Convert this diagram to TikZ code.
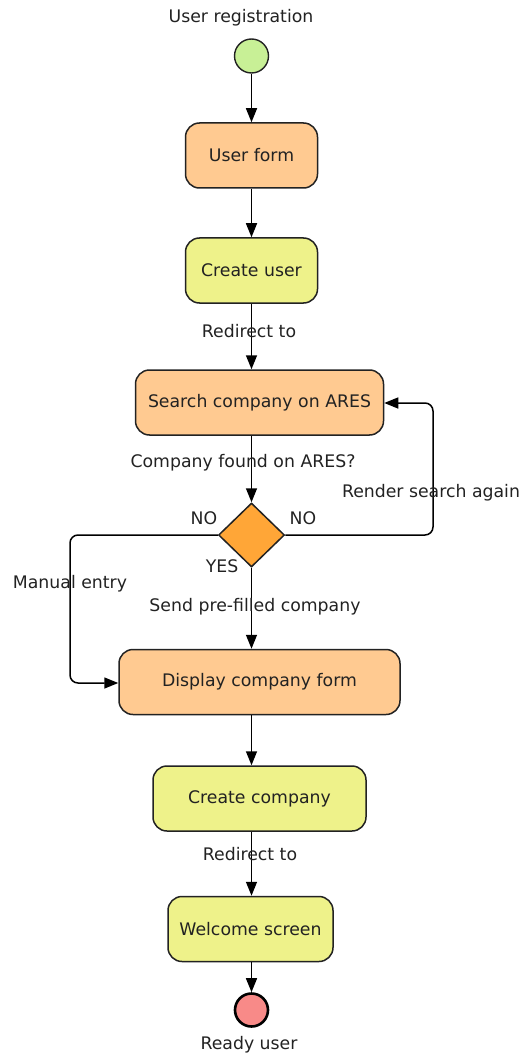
\documentclass[tikz,border=0pt]{standalone}
\usepackage{fontspec}
\setmainfont{DejaVu Sans}
\usetikzlibrary{arrows.meta,shapes.geometric}
\definecolor{peach}{HTML}{FFCA91}
\definecolor{lime}{HTML}{EEF28A}
\definecolor{startgreen}{HTML}{C8F096}
\definecolor{decorange}{HTML}{FFA637}
\definecolor{endred}{HTML}{F88A88}
\definecolor{ink}{HTML}{222222}
\begin{document}
\begin{tikzpicture}[x=1pt,y=-1pt,
  font=\fontsize{17.3}{20}\selectfont,
  box/.style={draw=ink, line width=1.5pt, rounded corners=14pt,
    minimum height=65pt, inner sep=0pt, text=ink},
  pagebox/.style={box, fill=peach},
  actbox/.style={box, fill=lime},
  flow/.style={draw=black, line width=1.5pt,
    -{Triangle[length=14pt,width=11pt]}},
  lbl/.style={text=ink, inner sep=0pt}
]
\useasboundingbox (0,0) rectangle (524,1059);

% start and end states
\node[circle, draw=ink, line width=1.4pt, fill=startgreen,
  minimum size=34pt, inner sep=0pt] (start) at (251.5,56) {};
\node[lbl] (startlbl) at (241,18) {User registration};

\node[circle, draw=black, line width=2.6pt, fill=endred,
  minimum size=33pt, inner sep=0pt] (finish) at (251.5,1010) {};
\node[lbl] (finishlbl) at (249,1045) {Ready user};

% activities
\node[pagebox, minimum width=132pt] (uf) at (251.5,155.5) {User form};
\node[actbox, minimum width=132pt] (cu) at (251.5,270.5) {Create user};
\node[pagebox, minimum width=248pt] (search) at (259.5,402.5) {Search company on ARES};
\node[diamond, draw=ink, line width=1.5pt, fill=decorange,
  minimum width=66pt, minimum height=64pt, inner sep=0pt] (dec) at (251.5,535) {};
\node[pagebox, minimum width=281pt] (dcf) at (259.5,682) {Display company form};
\node[actbox, minimum width=213pt] (cc) at (259.5,798.5) {Create company};
\node[actbox, minimum width=165pt] (ws) at (250.5,929) {Welcome screen};

% main column and loop corners
\coordinate (axis) at (251.5,0);
\coordinate (rloop) at (433,403);
\coordinate (lloop) at (70,683);

% connectors
\draw[flow] (start) -- (uf);
\draw[flow] (uf) -- (cu);
\draw[flow] (cu.south) -- (axis |- search.north);
\draw[flow] (axis |- search.south) -- (dec.north);
\draw[flow] (dec.south) -- (axis |- dcf.north);
\draw[flow, rounded corners=8pt] (dec.east) -| (rloop) -- (search.east |- rloop);
\draw[flow, rounded corners=8pt] (dec.west) -| (lloop) -- (dcf.west |- lloop);
\draw[flow] (axis |- dcf.south) -- (axis |- cc.north);
\draw[flow] (axis |- cc.south) -- (axis |- ws.north);
\draw[flow] (axis |- ws.south) -- (finish.north);

% connector labels
\node[lbl] (l1) at (249,331) {Redirect to};
\node[lbl] (l2) at (243,463) {Company found on ARES?};
\node[lbl] (l3) at (431,493) {Render search again};
\node[lbl] (l4) at (204,518) {NO};
\node[lbl] (l5) at (303,518) {NO};
\node[lbl] (l6) at (222,566) {YES};
\node[lbl] (l7) at (70,584) {Manual entry};
\node[lbl] (l8) at (255,607) {Send pre-filled company};
\node[lbl] (l9) at (250,854) {Redirect to};
\end{tikzpicture}
\end{document}
